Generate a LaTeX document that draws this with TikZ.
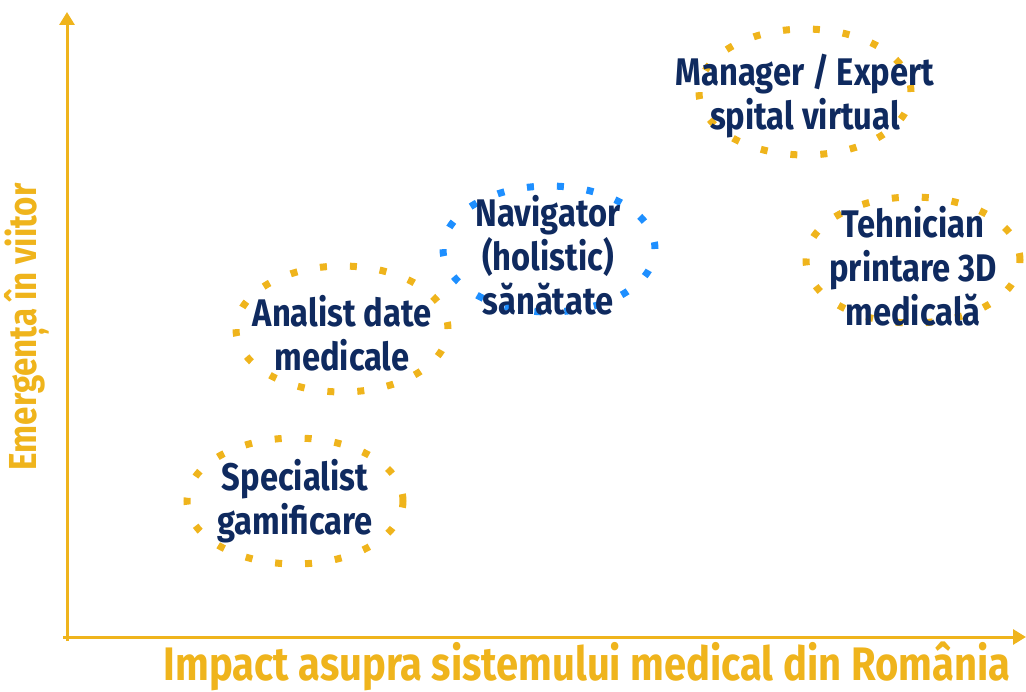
\documentclass[tikz,border=0pt]{standalone}
\usepackage{fontspec}
\setmainfont{Fira Sans}[FakeStretch=0.85]
\usetikzlibrary{arrows.meta,shapes.geometric}
\definecolor{axisgold}{HTML}{EFB41C}
\definecolor{rolenavy}{HTML}{0F2A5F}
\definecolor{navblue}{HTML}{1E8FFF}

\begin{document}
\begin{tikzpicture}
	[
		x=1pt, y=-1pt,
		% Dotted ring round a role.
		ring/.style={ellipse, draw=axisgold, line width=7pt, dash pattern=on 7pt off 23pt,
			minimum width=#1, minimum height=126pt, inner sep=0pt},
		ring/.default=212pt,
		% Text of a role.
		role/.style={align=center, text=rolenavy, inner sep=0pt,
			font=\fontsize{38.5}{44}\selectfont\bfseries},
		% Axis titles.
		axistitle/.style={text=axisgold, inner sep=0pt, font=\bfseries}
	]
		\useasboundingbox (0,0) rectangle (1026,692);

		% Axes
		\coordinate (o) at (67,637);
		\coordinate (ytop) at (67,12);
		\coordinate (xend) at (1026,637);
		\draw[axisgold, line width=3pt, -{Triangle[width=15pt,length=13pt]}] (67,641) -- (ytop);
		\draw[axisgold, line width=3pt, -{Triangle[width=15pt,length=13pt]}] (63,637) -- (xend);
		\node[axistitle, rotate=90, font=\fontsize{39}{44}\selectfont\bfseries] (ytitle) at (27,327) {Emergența în viitor};
		\node[axistitle, font=\fontsize{47}{52}\selectfont\bfseries] (xtitle) at (587,666) {Impact asupra sistemului medical din România};

		% Roles
		\node[ring] (managerring) at (805,92) {};
		\node[role] (manager) at (805,96) {Manager / Expert\\spital virtual};

		\node[ring, draw=navblue] (navring) at (549,249) {};
		\node[role] (nav) at (548,255) {Navigator\\(holistic)\\sănătate};

		\node[ring] (analistring) at (342,329) {};
		\node[role] (analist) at (342,333) {Analist date\\medicale};

		\node[ring=216pt] (specring) at (295,501) {};
		\node[role] (spec) at (295,501) {Specialist\\gamificare};

		\node[ring=214pt] (tehnring) at (913,260) {};
		\node[role] (tehn) at (913,266) {Tehnician\\printare 3D\\medicală};
\end{tikzpicture}
\end{document}
